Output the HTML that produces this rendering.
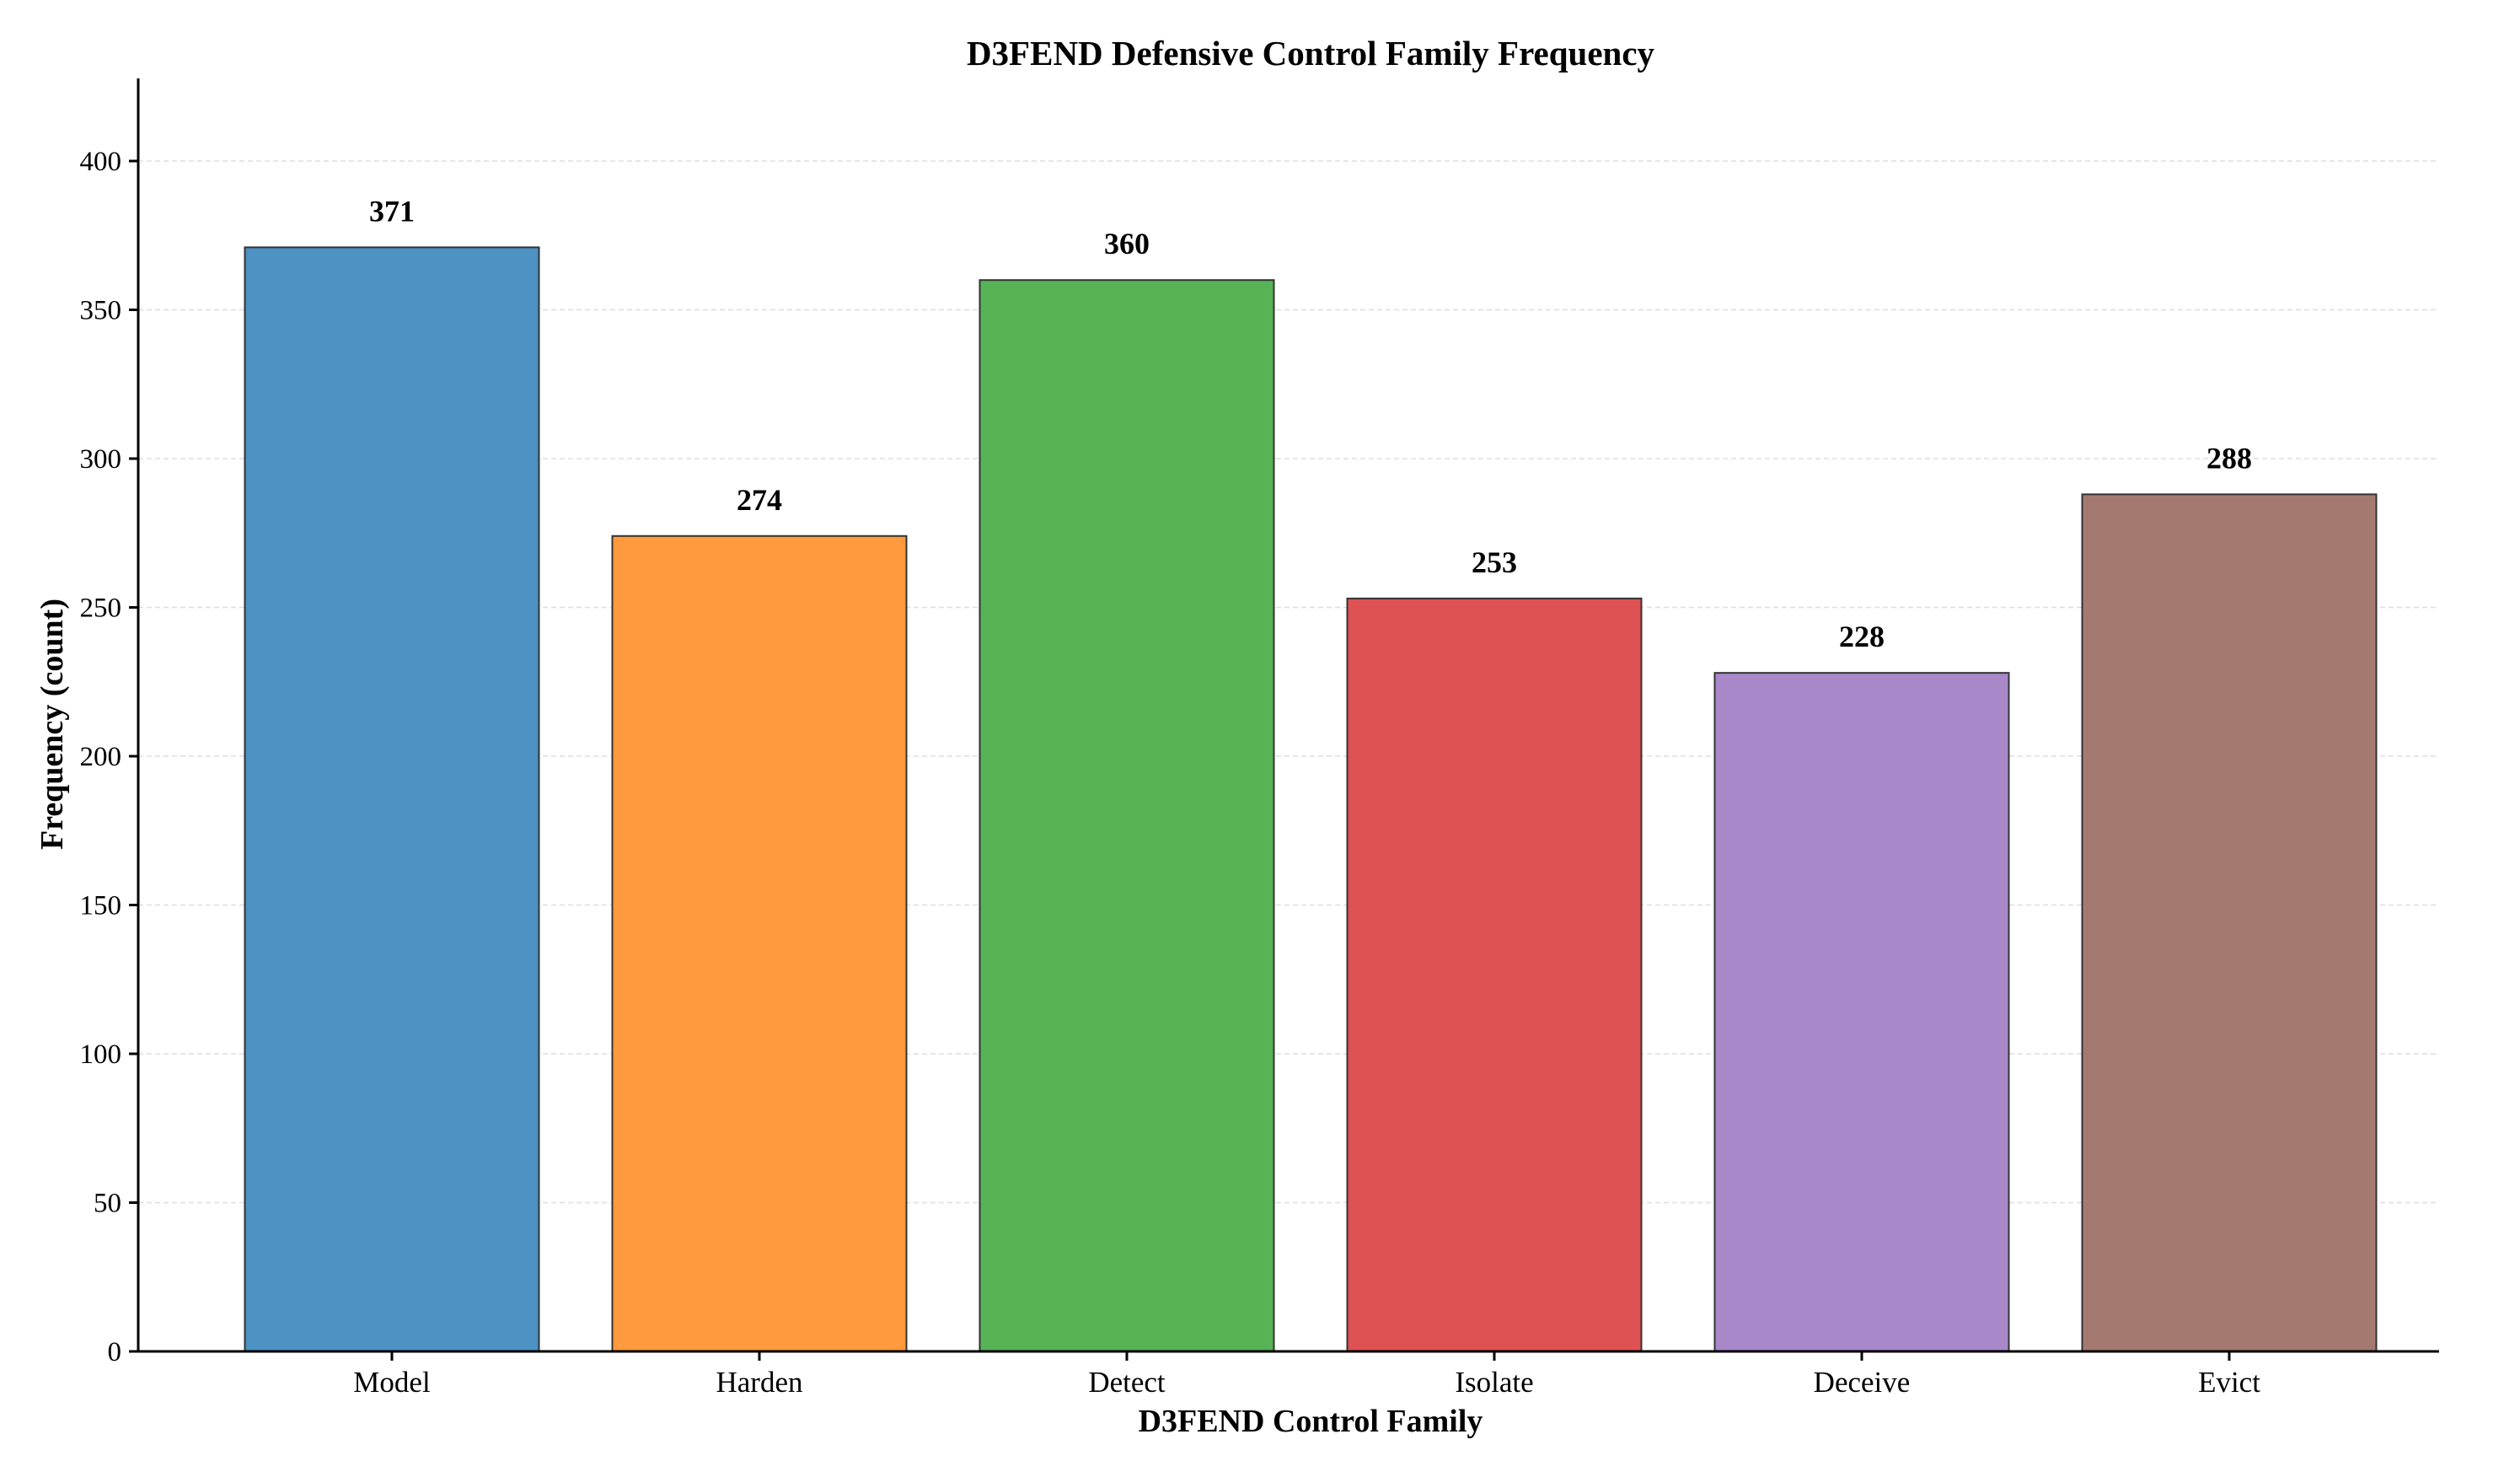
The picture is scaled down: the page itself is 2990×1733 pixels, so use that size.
<!DOCTYPE html>
<html><head><meta charset="utf-8"><style>
html,body{margin:0;padding:0;background:#fff}
svg{display:block;font-family:"Liberation Serif",serif}
</style></head><body>
<svg id="chart" width="2990" height="1733" viewBox="0 0 2990 1733" xmlns="http://www.w3.org/2000/svg">
<text x="1555" y="77" text-anchor="middle" font-size="41" font-weight="bold">D3FEND Defensive Control Family Frequency</text>
<text transform="translate(74,859) rotate(-90)" text-anchor="middle" font-size="38" font-weight="bold">Frequency (count)</text>
<text x="1555" y="1698" text-anchor="middle" font-size="38" font-weight="bold">D3FEND Control Family</text>
<g id="grid"></g><g id="bars"></g><g id="axes"></g>
</svg>
<script>
const categories = ["Model","Harden","Detect","Isolate","Deceive","Evict"];
const values = [371,274,360,253,228,288];
const colors = ["#4c92c3","#ff9a3e","#56b356","#df5253","#a888c9","#a47a70"];
const yTicks = [0,50,100,150,200,250,300,350,400];
const NS="http://www.w3.org/2000/svg";
const x0=164,x1=2894,y0=1603,yTop=93;
function yS(v){return y0-(v)*(1603-191)/400;}
function xS(i){return 465+i*436;}
const bw=349;
function mk(t,a,p){const e=document.createElementNS(NS,t);for(const k in a)e.setAttribute(k,a[k]);p.appendChild(e);return e;}
const grid=document.getElementById('grid'),bars=document.getElementById('bars'),axes=document.getElementById('axes');
yTicks.forEach(v=>{
  if(v>0){const g=mk('line',{x1:x0,x2:x1,y1:yS(v),y2:yS(v),stroke:'#dedede','stroke-width':1.5,'stroke-dasharray':'6,4'},grid);
  
  }
  const t=mk('line',{x1:x0-11,x2:x0,y1:yS(v),y2:yS(v),stroke:'#000','stroke-width':3},axes);
  
  
  const l=mk('text',{x:x0-20,y:yS(v)+11,'text-anchor':'end','font-size':33},axes);
  l.textContent=v;
  
  
});
categories.forEach((c,i)=>{
  const r=mk('rect',{x:xS(i)-bw/2,y:yS(values[i]),width:bw,height:y0-yS(values[i]),fill:colors[i],stroke:'#333','stroke-width':2},bars);
  
  
  const v=mk('text',{x:xS(i),y:yS(values[i])-31,'text-anchor':'middle','font-size':36,'font-weight':'bold'},bars);
  v.textContent=values[i];
  
  
  const t=mk('line',{x1:xS(i),x2:xS(i),y1:y0,y2:y0+11,stroke:'#000','stroke-width':3},axes);
  
  
  const l=mk('text',{x:xS(i),y:y0+48,'text-anchor':'middle','font-size':35},axes);
  l.textContent=c;
  
  
});
const ya=mk('line',{x1:x0,x2:x0,y1:yTop,y2:y0+1.5,stroke:'#000','stroke-width':3},axes);


const xa=mk('line',{x1:x0-1.5,x2:x1,y1:y0,y2:y0,stroke:'#000','stroke-width':3},axes);


</script>
</body></html>
